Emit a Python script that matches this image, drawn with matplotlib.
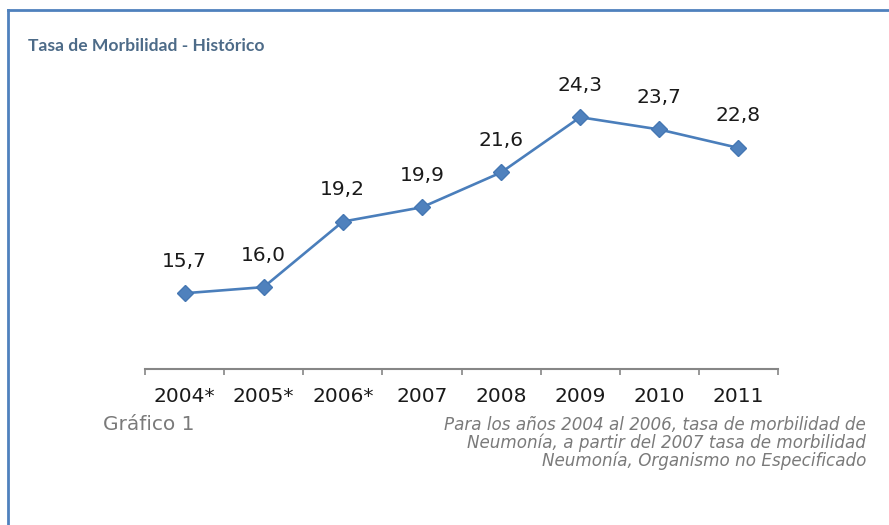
import matplotlib
matplotlib.use('Agg')
import matplotlib.pyplot as plt
from matplotlib.lines import Line2D

years = ['2004*', '2005*', '2006*', '2007', '2008', '2009', '2010', '2011']
tasa = [15.7, 16.0, 19.2, 19.9, 21.6, 24.3, 23.7, 22.8]

titulo = 'Tasa de Morbilidad - Histórico'
grafico = 'Gráfico 1'
nota = ('Para los años 2004 al 2006, tasa de morbilidad de\n'
        'Neumonía, a partir del 2007 tasa de morbilidad\n'
        'Neumonía, Organismo no Especificado')

azul = '#4f81bd'
gris_eje = '#868686'

fig = plt.figure(figsize=(8.89, 5.25), dpi=100)
ax = fig.add_axes([145 / 889, 1 - 369 / 525, 633 / 889, 286.6 / 525])

x = list(range(len(years)))
ax.plot(x, tasa, color='#4a7ebb', lw=1.9, marker='D', markersize=8,
        markerfacecolor=azul, markeredgecolor='#4577b3', zorder=3)

# etiquetas de valor con coma decimal
for xi, v in zip(x, tasa):
    ax.annotate(f'{v:.1f}'.replace('.', ','), (xi, v), xytext=(0, 32),
                textcoords='offset pixels', ha='center', va='center',
                fontsize=14.5, color='#1a1a1a')

ax.set_xlim(-0.5, len(years) - 0.5)
ax.set_ylim(12, 26)
ax.set_xticks(x)
ax.set_xticklabels(years, fontsize=14.5, color='#1a1a1a')
ax.set_xticks([i - 0.5 for i in range(len(years) + 1)], minor=True)
ax.tick_params(axis='x', which='major', length=0, pad=13)
ax.tick_params(axis='x', which='minor', length=4, width=1.2, color=gris_eje)
ax.set_yticks([])
for s in ['left', 'right', 'top']:
    ax.spines[s].set_visible(False)
ax.spines['bottom'].set_color(gris_eje)
ax.spines['bottom'].set_linewidth(1.5)

# marco azul superior e izquierdo
fig.add_artist(Line2D([8 / 889, 1], [1 - 10 / 525] * 2, color=azul, lw=2,
                      transform=fig.transFigure))
fig.add_artist(Line2D([8 / 889] * 2, [0, 1 - 10 / 525], color=azul, lw=2,
                      transform=fig.transFigure))

fig.text(28 / 889, 1 - 46 / 525, titulo, fontsize=12.6, fontweight='bold',
         color='#4d6b88', family='Lato', va='center', ha='left')
fig.text(103 / 889, 1 - 425 / 525, grafico, fontsize=14.5, color='#7a7a7a',
         va='center', ha='left')
fig.text(866 / 889, 1 - 443 / 525, nota, fontsize=12.1, color='#7a7a7a',
         style='italic', va='center', ha='right', linespacing=1.0)

fig.savefig('out.png', dpi=100)
